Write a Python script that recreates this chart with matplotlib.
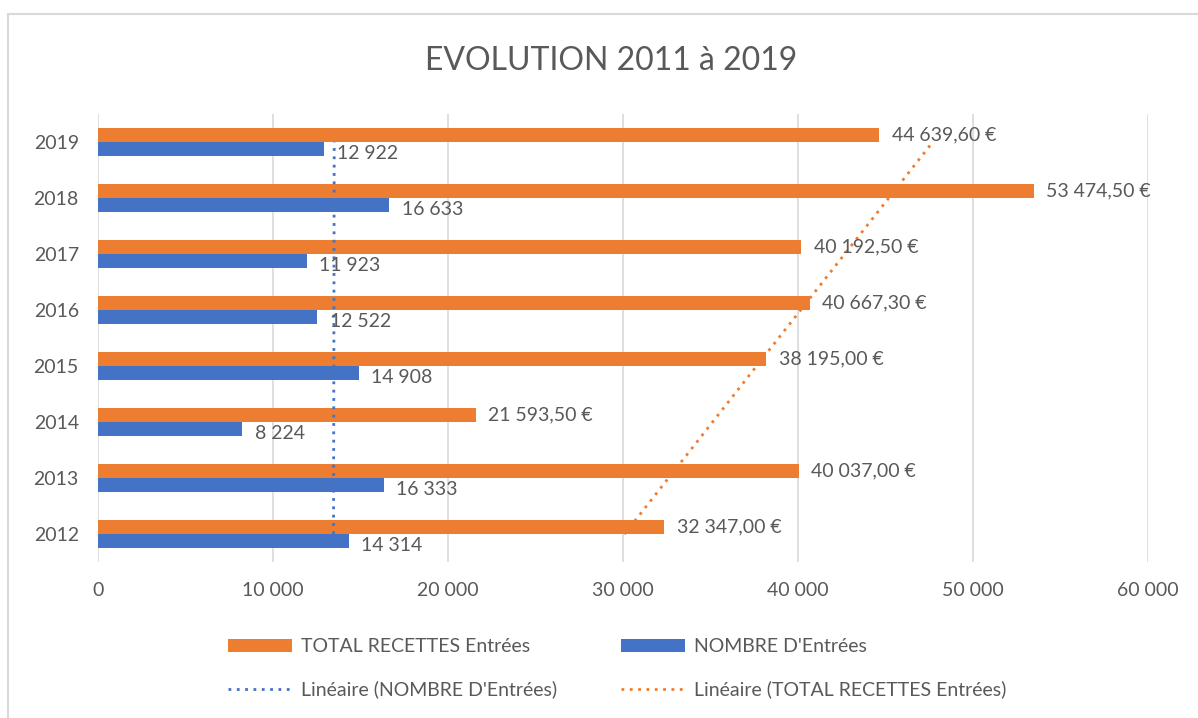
import matplotlib
matplotlib.use("Agg")
import matplotlib.pyplot as plt
import numpy as np
from matplotlib.patches import Rectangle
from matplotlib.ticker import FuncFormatter

plt.rcParams['font.family'] = ['Lato', 'DejaVu Sans']

# data
years = ['2012', '2013', '2014', '2015', '2016', '2017', '2018', '2019']
recettes = [32347.00, 40037.00, 21593.50, 38195.00, 40667.30, 40192.50, 53474.50, 44639.60]
entrees = [14314, 16333, 8224, 14908, 12522, 11923, 16633, 12922]

ORANGE = '#ed7d31'
BLUE = '#4472c4'
TEXT = '#595959'
NNBSP = '\u202f'


def fmt_int(v):
    return f"{int(round(v)):,}".replace(',', NNBSP)


def fmt_eur(v):
    s = f"{v:,.2f}".replace(',', ' ').replace('.', ',').replace(' ', NNBSP)
    return s + NNBSP + '€'


fig = plt.figure(figsize=(11.98, 7.18), dpi=100)
ax = fig.add_axes([0.082, 0.217, 0.876, 0.624])

y = np.arange(len(years))
h = 0.25
ax.barh(y + h / 2, recettes, height=h, color=ORANGE, label='TOTAL RECETTES Entrées', zorder=2)
ax.barh(y - h / 2, entrees, height=h, color=BLUE, label="NOMBRE D'Entrées", zorder=2)

# linear trendlines (like Excel "Linéaire")
x_idx = np.arange(1, len(years) + 1)
p_ent = np.polyfit(x_idx, entrees, 1)
p_rec = np.polyfit(x_idx, recettes, 1)
ax.plot(np.polyval(p_ent, x_idx), y, color=BLUE, linestyle=(0, (1, 2)), lw=2,
        label="Linéaire (NOMBRE D'Entrées)", zorder=3)
ax.plot(np.polyval(p_rec, x_idx), y, color=ORANGE, linestyle=(0, (1, 2)), lw=2,
        label='Linéaire (TOTAL RECETTES Entrées)', zorder=3)

# value labels
for yi, v in zip(y, recettes):
    ax.annotate(fmt_eur(v), (v, yi + h / 2), xytext=(9, 0), textcoords='offset points',
                va='center', ha='left', fontsize=14, color=TEXT, zorder=4)
for yi, v in zip(y, entrees):
    ax.annotate(fmt_int(v), (v, yi - h / 2), xytext=(9, -3), textcoords='offset points',
                va='center', ha='left', fontsize=14, color=TEXT, zorder=4)

ax.set_xlim(0, 60000)
ax.set_ylim(-0.5, len(years) - 0.5)
ax.set_xticks(np.arange(0, 60001, 10000))
ax.xaxis.set_major_formatter(FuncFormatter(lambda v, p: fmt_int(v)))
ax.set_yticks(y)
ax.set_yticklabels(years)
ax.tick_params(axis='both', length=0, labelsize=14, colors=TEXT)
ax.tick_params(axis='x', pad=14)
ax.tick_params(axis='y', pad=14)
ax.grid(axis='x', color='#d9d9d9', lw=1.2, zorder=0)
ax.set_axisbelow(True)
for s in ax.spines.values():
    s.set_visible(False)

fig.text(0.51, 0.915, 'EVOLUTION 2011 à 2019', ha='center', va='center',
         fontsize=23, color=TEXT)

handles, labels = ax.get_legend_handles_labels()
order = [2, 0, 3, 1]
leg = fig.legend([handles[i] for i in order], [labels[i] for i in order],
                 loc='center', bbox_to_anchor=(0.515, 0.069), ncol=2, frameon=False,
                 fontsize=14, labelcolor=TEXT, columnspacing=3.3, handlelength=3.3,
                 handletextpad=0.45, labelspacing=1.3)

# chart area border
fig.patches.append(Rectangle((0.007, -0.01), 1.5, 0.99, transform=fig.transFigure,
                             fill=False, edgecolor='#d9d9d9', lw=1.5))

fig.savefig('out.png', dpi=100)
